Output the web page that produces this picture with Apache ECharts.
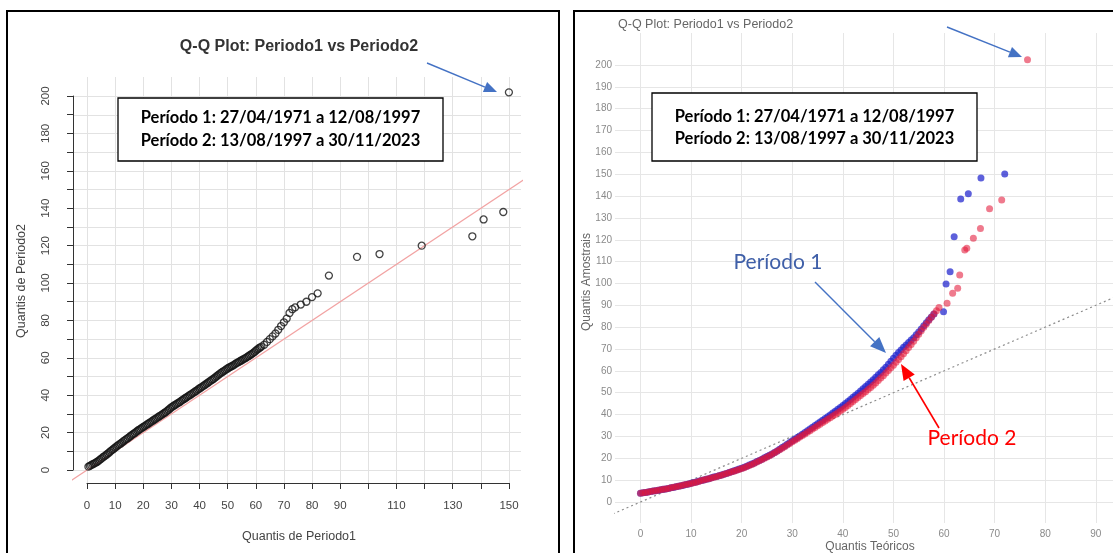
<!DOCTYPE html>
<html>
<head>
<meta charset="utf-8">
<script src="https://cdn.jsdelivr.net/npm/echarts@6/dist/echarts.min.js"></script>
<style>
  html, body { margin: 0; padding: 0; background: #ffffff; }
  #chart { width: 1113px; height: 553px; }
</style>
</head>
<body>
<div id="chart"></div>
<script>
// ---- Left panel: quantiles of Período 1 (x) against quantiles of Período 2 (y)
const quantisPeriodo1 = [
  0.5, 1, 1.5, 2, 2.5, 3, 3.5, 4, 4.5, 5,
  5.5, 6, 6.5, 7, 7.5, 8, 8.5, 9, 9.5, 10,
  10.5, 11, 11.5, 12, 12.5, 13, 13.5, 14, 14.5, 15,
  15.5, 16, 16.5, 17, 17.5, 18, 18.5, 19, 19.5, 20,
  20.5, 21, 21.5, 22, 22.5, 23, 23.5, 24, 24.5, 25,
  25.5, 26, 26.5, 27, 27.5, 28, 28.5, 29, 29.5, 30,
  30.5, 31, 31.5, 32, 32.5, 33, 33.5, 34, 34.5, 35,
  35.5, 36, 36.5, 37, 37.5, 38, 38.5, 39, 39.5, 40,
  40.5, 41, 41.5, 42, 42.5, 43, 43.5, 44, 44.5, 45,
  45.5, 46, 46.5, 47, 47.5, 48, 48.5, 49, 49.5, 50,
  50.5, 51, 51.5, 52, 52.5, 53, 53.5, 54, 54.5, 55,
  55.5, 56, 56.5, 57, 57.5, 58, 58.5, 59, 59.5, 60,
  60.5, 61, 61.5, 62,
  63, 64, 65, 66, 67, 68, 69, 70, 71, 72, 73, 74,
  76, 78, 80, 82, 86, 96, 104, 119, 137, 141, 148, 150];
const quantisPeriodo2 = [
  1.8, 2.2, 2.6, 3.1, 3.4, 3.8, 4.3, 4.8, 5.4, 6.0,
  6.6, 7.2, 7.7, 8.3, 8.9, 9.5, 10.2, 10.8, 11.4, 12.0,
  12.6, 13.2, 13.7, 14.2, 14.8, 15.4, 16.0, 16.5, 17.0, 17.6,
  18.2, 18.8, 19.3, 19.8, 20.4, 21.0, 21.5, 22.0, 22.5, 23.0,
  23.5, 24.0, 24.5, 25.0, 25.5, 26.0, 26.5, 27.0, 27.5, 28.0,
  28.5, 29.0, 29.5, 30.0, 30.5, 31.0, 31.6, 32.2, 32.9, 33.5,
  34.0, 34.5, 35.0, 35.5, 35.9, 36.4, 37.0, 37.5, 38.0, 38.5,
  39.0, 39.5, 40.0, 40.5, 41.0, 41.5, 42.0, 42.5, 43.1, 43.6,
  44.1, 44.6, 45.1, 45.6, 46.2, 46.7, 47.3, 47.8, 48.3, 48.8,
  49.4, 50.0, 50.6, 51.2, 51.8, 52.3, 52.8, 53.3, 53.8, 54.3,
  54.8, 55.2, 55.6, 56.0, 56.5, 57.0, 57.4, 57.8, 58.3, 58.7,
  59.2, 59.6, 60.0, 60.5, 61.0, 61.5, 62.0, 62.5, 63.1, 63.8,
  64.4, 65.0, 65.5, 66.0,
  67.0, 68.5, 70.0, 71.5, 73.0, 75.0, 77.0, 79.0, 81.0, 84.0, 86.0, 87.0,
  88.5, 90.0, 92.5, 94.5, 104.0, 114.0, 115.5, 120.0, 125.0, 134.0, 138.0, 202.0];

// ---- Right panel: theoretical quantiles vs sample quantiles, one series per period
const teoricosPeriodo1 = [
  0, 0.5, 1, 1.5, 2, 2.5, 3, 3.5, 4, 4.5,
  5, 5.5, 6, 6.5, 7, 7.5, 8, 8.5, 9, 9.5,
  10, 10.5, 11, 11.5, 12, 12.5, 13, 13.5, 14, 14.5,
  15, 15.5, 16, 16.5, 17, 17.5, 18, 18.5, 19, 19.5,
  20, 20.5, 21, 21.5, 22, 22.5, 23, 23.5, 24, 24.5,
  25, 25.5, 26, 26.5, 27, 27.5, 28, 28.5, 29, 29.5,
  30, 30.5, 31, 31.5, 32, 32.5, 33, 33.5, 34, 34.5,
  35, 35.5, 36, 36.5, 37, 37.5, 38, 38.5, 39, 39.5,
  40, 40.5, 41, 41.5, 42, 42.5, 43, 43.5, 44, 44.5,
  45, 45.5, 46, 46.5, 47, 47.5, 48, 48.5, 49, 49.5,
  50, 50.5, 51, 51.5, 52, 52.5, 53, 53.5, 54, 54.5,
  55, 55.5, 56, 56.5, 57, 57.5, 58,
  59.9, 60.4, 61.2, 62.0, 63.3, 64.8, 67.3, 72.0];
const amostraisPeriodo1 = [
  4.0, 4.2, 4.4, 4.6, 4.8, 5.0, 5.2, 5.4, 5.6, 5.8,
  6.0, 6.2, 6.5, 6.7, 7.0, 7.2, 7.5, 7.7, 8.0, 8.3,
  8.6, 8.9, 9.2, 9.5, 9.8, 10.1, 10.4, 10.7, 11.1, 11.4,
  11.7, 12.0, 12.4, 12.7, 13.1, 13.5, 13.9, 14.3, 14.7, 15.1,
  15.5, 15.9, 16.4, 16.9, 17.4, 17.9, 18.5, 19.0, 19.6, 20.2,
  20.8, 21.4, 22.0, 22.7, 23.4, 24.1, 24.9, 25.6, 26.4, 27.2,
  28.0, 28.7, 29.5, 30.2, 31.0, 31.8, 32.6, 33.4, 34.2, 35.0,
  35.8, 36.6, 37.4, 38.2, 39.0, 39.8, 40.7, 41.5, 42.4, 43.3,
  44.2, 45.1, 46.0, 46.9, 47.9, 48.8, 49.8, 50.8, 51.8, 52.8,
  53.9, 54.9, 56.0, 57.1, 58.2, 59.3, 60.5, 61.7, 63.0, 64.4,
  65.8, 67.1, 68.4, 69.6, 70.8, 71.9, 73.0, 74.1, 75.2, 76.5,
  77.8, 79.2, 80.6, 82.0, 83.4, 84.7, 86.0,
  87.1, 99.8, 105.4, 121.4, 138.6, 141.0, 148.2, 150.1];
const teoricosPeriodo2 = [
  0, 0.5, 1, 1.5, 2, 2.5, 3, 3.5, 4, 4.5,
  5, 5.5, 6, 6.5, 7, 7.5, 8, 8.5, 9, 9.5,
  10, 10.5, 11, 11.5, 12, 12.5, 13, 13.5, 14, 14.5,
  15, 15.5, 16, 16.5, 17, 17.5, 18, 18.5, 19, 19.5,
  20, 20.5, 21, 21.5, 22, 22.5, 23, 23.5, 24, 24.5,
  25, 25.5, 26, 26.5, 27, 27.5, 28, 28.5, 29, 29.5,
  30, 30.5, 31, 31.5, 32, 32.5, 33, 33.5, 34, 34.5,
  35, 35.5, 36, 36.5, 37, 37.5, 38, 38.5, 39, 39.5,
  40, 40.5, 41, 41.5, 42, 42.5, 43, 43.5, 44, 44.5,
  45, 45.5, 46, 46.5, 47, 47.5, 48, 48.5, 49, 49.5,
  50, 50.5, 51, 51.5, 52, 52.5, 53, 53.5, 54, 54.5,
  55, 55.5, 56, 56.5, 57, 57.5, 58, 58.5, 59,
  60.6, 61.7, 62.7, 63.1, 64.1, 64.5, 65.8, 67.2, 69.0, 71.4, 76.5];
const amostraisPeriodo2 = [
  4.0, 4.2, 4.4, 4.6, 4.8, 5.0, 5.2, 5.4, 5.6, 5.8,
  6.0, 6.2, 6.5, 6.8, 7.0, 7.2, 7.5, 7.8, 8.0, 8.2,
  8.5, 8.8, 9.1, 9.4, 9.8, 10.1, 10.4, 10.7, 11.0, 11.3,
  11.6, 12.0, 12.3, 12.7, 13.0, 13.4, 13.8, 14.1, 14.5, 14.9,
  15.3, 15.7, 16.2, 16.7, 17.2, 17.7, 18.3, 18.9, 19.4, 20.0,
  20.6, 21.2, 21.8, 22.5, 23.2, 23.9, 24.6, 25.3, 26.1, 26.8,
  27.6, 28.3, 29.0, 29.7, 30.4, 31.1, 31.9, 32.6, 33.4, 34.1,
  34.9, 35.6, 36.4, 37.1, 37.9, 38.6, 39.4, 40.1, 40.9, 41.6,
  42.4, 43.3, 44.2, 45.1, 46.0, 46.9, 47.8, 48.7, 49.6, 50.5,
  51.5, 52.4, 53.4, 54.5, 55.6, 56.7, 57.8, 59.0, 60.2, 61.4,
  62.6, 63.9, 65.2, 66.5, 67.8, 69.2, 70.7, 72.1, 73.6, 75.2,
  76.8, 78.4, 80.0, 81.5, 83.0, 84.5, 86.0, 87.5, 89.0,
  90.9, 95.5, 97.8, 103.9, 115.3, 116.1, 120.7, 125.2, 134.2, 138.2, 202.4];

// ---- Identity reference line (y = x), end points
const linhaReferencia = [-20, 240];

// ---- Tick values
const ticksXEsquerda = [0, 10, 20, 30, 40, 50, 60, 70, 80, 90, 100, 110, 120, 130, 140, 150];
const ticksYEsquerda = [0, 10, 20, 30, 40, 50, 60, 70, 80, 90, 100, 110, 120, 130, 140, 150, 160, 170, 180, 190, 200];
const rotulosXOcultos = [100, 120, 140];
const ticksXDireita = [0, 10, 20, 30, 40, 50, 60, 70, 80, 90];
const ticksYDireita = [0, 10, 20, 30, 40, 50, 60, 70, 80, 90, 100, 110, 120, 130, 140, 150, 160, 170, 180, 190, 200];

// ---- Texts
const tituloGrafico = 'Q-Q Plot: Periodo1 vs Periodo2';
const tituloXEsquerda = 'Quantis de Periodo1';
const tituloYEsquerda = 'Quantis de Periodo2';
const tituloXDireita = 'Quantis Teóricos';
const tituloYDireita = 'Quantis Amostrais';
const legendaPeriodos = ['Período 1: 27/04/1971 a 12/08/1997', 'Período 2: 13/08/1997 a 30/11/2023'];
const nomeSerie1 = 'Período 1';
const nomeSerie2 = 'Período 2';

const zip = (xs, ys) => xs.map((x, i) => [x, ys[i]]);

// Straight arrow with a filled triangular head
function seta(x1, y1, x2, y2, cor, largura, compHead, largHead) {
  const dx = x2 - x1, dy = y2 - y1;
  const len = Math.hypot(dx, dy);
  const ux = dx / len, uy = dy / len;
  const bx = x2 - ux * compHead, by = y2 - uy * compHead;
  const px = -uy * largHead / 2, py = ux * largHead / 2;
  return [
    { type: 'line', z: 20, shape: { x1: x1, y1: y1, x2: bx, y2: by },
      style: { stroke: cor, lineWidth: largura } },
    { type: 'polygon', z: 20, shape: { points: [[x2, y2], [bx + px, by + py], [bx - px, by - py]] },
      style: { fill: cor } }
  ];
}

const fonteCaixa = 'Lato, "Open Sans", sans-serif';
function caixaLegenda(x, y, w, h, l1, l2) {
  return [
    { type: 'rect', z: 15, shape: { x: x, y: y, width: w, height: h },
      style: { fill: '#ffffff', stroke: '#000000', lineWidth: 1.3 } },
    { type: 'text', z: 16, style: { x: x + w / 2, y: y + l1, text: legendaPeriodos[0],
      font: 'bold 16.5px ' + fonteCaixa, fill: '#000', textAlign: 'center', textVerticalAlign: 'middle' } },
    { type: 'text', z: 16, style: { x: x + w / 2, y: y + l2, text: legendaPeriodos[1],
      font: 'bold 16.5px ' + fonteCaixa, fill: '#000', textAlign: 'center', textVerticalAlign: 'middle' } }
  ];
}

const fonteR = '"Liberation Sans", Arial, sans-serif';

const graficos = [].concat(
  // panel frames
  [{ type: 'rect', z: 30, shape: { x: 7, y: 11, width: 552, height: 570 },
     style: { fill: 'none', stroke: '#000', lineWidth: 2 } },
   { type: 'rect', z: 30, shape: { x: 574, y: 11, width: 580, height: 570 },
     style: { fill: 'none', stroke: '#000', lineWidth: 2 } }],
  // left panel titles
  [{ type: 'text', z: 10, style: { x: 299, y: 47, text: tituloGrafico, font: 'bold 16px ' + fonteR,
     fill: '#333', textAlign: 'center', textVerticalAlign: 'middle' } },
   { type: 'text', z: 10, style: { x: 299, y: 537, text: tituloXEsquerda, font: '12.5px ' + fonteR,
     fill: '#444', textAlign: 'center', textVerticalAlign: 'middle' } },
   { type: 'text', z: 10, x: 22, y: 281, rotation: Math.PI / 2, style: { x: 0, y: 0, text: tituloYEsquerda,
     font: '12.5px ' + fonteR, fill: '#444', textAlign: 'center', textVerticalAlign: 'middle' } }],
  // right panel titles
  [{ type: 'text', z: 10, style: { x: 618, y: 25, text: tituloGrafico, font: '12.5px ' + fonteR,
     fill: '#666', textAlign: 'left', textVerticalAlign: 'middle' } },
   { type: 'text', z: 10, style: { x: 870, y: 547, text: tituloXDireita, font: '12px ' + fonteR,
     fill: '#666', textAlign: 'center', textVerticalAlign: 'middle' } },
   { type: 'text', z: 10, x: 587, y: 282, rotation: Math.PI / 2, style: { x: 0, y: 0, text: tituloYDireita,
     font: '12px ' + fonteR, fill: '#666', textAlign: 'center', textVerticalAlign: 'middle' } }],
  caixaLegenda(118, 98, 325, 63, 20, 43),
  caixaLegenda(652, 93, 325, 68, 24, 46),
  seta(427, 63, 497, 92, '#4472C4', 1.4, 13, 11),
  seta(947, 27, 1022, 57, '#4472C4', 1.4, 13, 11),
  seta(815, 282, 886, 353, '#4472C4', 1.4, 16, 13),
  seta(939, 428, 901, 364, '#FF0000', 1.6, 16, 13),
  [{ type: 'text', z: 20, style: { x: 778, y: 262, text: nomeSerie1, font: '21px ' + fonteCaixa,
     fill: '#3F5FA8', textAlign: 'center', textVerticalAlign: 'middle' } },
   { type: 'text', z: 20, style: { x: 972, y: 438, text: nomeSerie2, font: '21px ' + fonteCaixa,
     fill: '#FF0000', textAlign: 'center', textVerticalAlign: 'middle' } }]
);

const option = {
  animation: false,
  backgroundColor: '#ffffff',
  grid: [
    { left: 73, top: 77, width: 448, height: 406 },   // left data area
    { left: 87, top: 96, width: 422, height: 374 },   // left axes (0..150 x 0..200)
    { left: 615, top: 33, right: 0, height: 490 }     // right data area
  ],
  xAxis: [
    { gridIndex: 0, type: 'value', min: -4.98, max: 154.3,
      axisLine: { show: false }, axisTick: { show: false, customValues: ticksXEsquerda },
      axisLabel: { show: false }, splitLine: { show: true, lineStyle: { color: '#e2e2e2', width: 1 } } },
    { gridIndex: 1, type: 'value', min: 0, max: 150, interval: 10, offset: 13,
      axisLine: { show: true, onZero: false, lineStyle: { color: '#333', width: 1 } },
      axisTick: { show: true, length: 6, lineStyle: { color: '#333' } },
      axisLabel: { margin: 17, fontSize: 11.5, color: '#444', fontFamily: fonteR,
        formatter: v => rotulosXOcultos.includes(v) ? '' : String(v) },
      splitLine: { show: false } },
    { gridIndex: 2, type: 'value', min: -5.04, max: 93.4,
      axisLine: { show: false }, axisTick: { show: false, customValues: ticksXDireita },
      axisLabel: { customValues: ticksXDireita, margin: 6, fontSize: 10, color: '#8a8a8a', fontFamily: fonteR },
      splitLine: { show: true, lineStyle: { color: '#e6e6e6', width: 1 } } }
  ],
  yAxis: [
    { gridIndex: 0, type: 'value', min: -6.95, max: 210.2,
      axisLine: { show: false }, axisTick: { show: false, customValues: ticksYEsquerda },
      axisLabel: { show: false }, splitLine: { show: true, lineStyle: { color: '#e2e2e2', width: 1 } } },
    { gridIndex: 1, type: 'value', min: 0, max: 200, interval: 10, offset: 14,
      axisLine: { show: true, onZero: false, lineStyle: { color: '#333', width: 1 } },
      axisTick: { show: true, length: 6, lineStyle: { color: '#333' } },
      axisLabel: { margin: 21, fontSize: 11.5, color: '#444', rotate: 90, fontFamily: fonteR,
        formatter: v => (v % 20 === 0 ? String(v) : '') },
      splitLine: { show: false } },
    { gridIndex: 2, type: 'value', min: -9.6, max: 214.6,
      axisLine: { show: false }, axisTick: { show: false, customValues: ticksYDireita },
      axisLabel: { customValues: ticksYDireita, margin: 3, fontSize: 10, color: '#8a8a8a', fontFamily: fonteR },
      splitLine: { show: true, lineStyle: { color: '#e6e6e6', width: 1 } } }
  ],
  series: [
    { type: 'line', xAxisIndex: 0, yAxisIndex: 0, data: zip(linhaReferencia, linhaReferencia),
      showSymbol: false, silent: true, clip: true,
      lineStyle: { color: '#f2a3a3', width: 1.2 }, z: 2 },
    { type: 'scatter', xAxisIndex: 0, yAxisIndex: 0, data: zip(quantisPeriodo1, quantisPeriodo2),
      symbol: 'circle', symbolSize: 7, silent: true,
      itemStyle: { color: 'rgba(0,0,0,0)', borderColor: '#151515', borderWidth: 1.3 }, z: 3 },
    { type: 'line', xAxisIndex: 2, yAxisIndex: 2, data: zip(linhaReferencia, linhaReferencia),
      showSymbol: false, silent: true, clip: true,
      lineStyle: { color: '#8c8c8c', width: 1.2, type: [2, 3] }, z: 2 },
    { type: 'scatter', xAxisIndex: 2, yAxisIndex: 2, name: nomeSerie1,
      data: zip(teoricosPeriodo1, amostraisPeriodo1), symbol: 'circle', symbolSize: 7, silent: true,
      itemStyle: { color: 'rgba(30,34,205,0.9)' }, z: 3 },
    { type: 'scatter', xAxisIndex: 2, yAxisIndex: 2, name: nomeSerie2,
      data: zip(teoricosPeriodo2, amostraisPeriodo2), symbol: 'circle', symbolSize: 7, silent: true,
      itemStyle: { color: 'rgba(228,24,58,0.72)' }, z: 4 }
  ],
  graphic: graficos
};

const chart = echarts.init(document.getElementById('chart'), null, { renderer: 'canvas' });
chart.setOption(option);
</script>
</body>
</html>
